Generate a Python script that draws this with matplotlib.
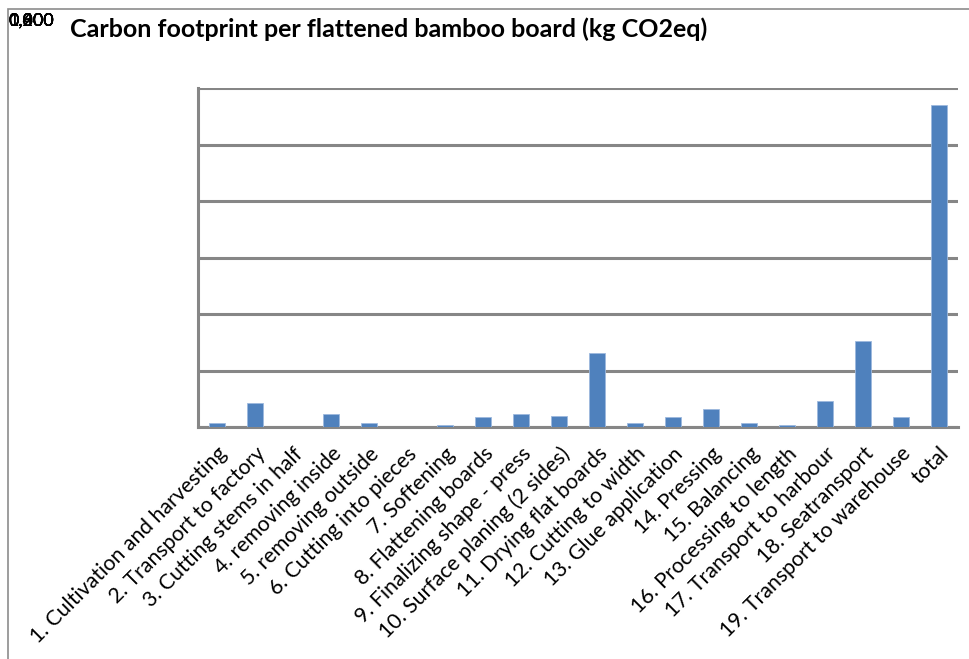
import matplotlib
matplotlib.use("Agg")
import matplotlib.pyplot as plt
from matplotlib.patches import Rectangle

steps = [
    "1. Cultivation and harvesting",
    "2. Transport to factory",
    "3. Cutting stems in half",
    "4. removing inside",
    "5. removing outside",
    "6. Cutting into pieces",
    "7. Softening",
    "8. Flattening boards",
    "9. Finalizing shape - press",
    "10. Surface planing (2 sides)",
    "11. Drying flat boards",
    "12. Cutting to width",
    "13. Glue application",
    "14. Pressing",
    "15. Balancing",
    "16. Processing to length",
    "17. Transport to harbour",
    "18. Seatransport",
    "19. Transport to warehouse",
    "total",
]
co2_kg = [0.014, 0.086, 0.0, 0.046, 0.014, 0.0, 0.006, 0.034, 0.046, 0.040,
          0.263, 0.014, 0.036, 0.065, 0.014, 0.008, 0.092, 0.303, 0.034, 1.139]
y_ticks = [0.0, 0.2, 0.4, 0.6, 0.8, 1.0, 1.2]
y_tick_labels = ["0,000", "0,200", "0,400", "0,600", "0,800", "1,000", "1,200"]

W, H = 970, 659
fig = plt.figure(figsize=(W / 100, H / 100), dpi=100)
fig.patch.set_facecolor("white")

font = "Lato"
grid_col = "#868686"

# outer chart frame
fig.add_artist(Rectangle((8 / W, -0.05), 1.2, 1 - 9 / H + 0.05,
                         transform=fig.transFigure, fill=False,
                         edgecolor="#8c8c8c", linewidth=1.2))

ax = fig.add_axes([198 / W, 1 - 427 / H, 760 / W, 339 / H])
x = list(range(len(steps)))
ax.bar(x, co2_kg, width=0.42, color="#4F81BD", edgecolor="#9DB9DE",
       linewidth=0.6, zorder=3)
ax.set_xlim(-0.5, len(steps) - 0.5)
ax.set_ylim(0, 1.2)
ax.set_yticks(y_ticks)
ax.yaxis.grid(True, color=grid_col, linewidth=2.2, zorder=0)
ax.tick_params(axis="y", length=0, labelleft=False)
ax.tick_params(axis="x", length=0, pad=12)
for s in ("top", "right"):
    ax.spines[s].set_visible(False)
for s in ("left", "bottom"):
    ax.spines[s].set_color(grid_col)
    ax.spines[s].set_linewidth(2.2)
ax.set_xticks(x)
ax.set_xticklabels(steps, rotation=45, ha="right", va="top",
                   rotation_mode="anchor", fontsize=15.3, family=font)

# the value-axis labels all end up stacked in the top-left corner
for lbl in y_tick_labels:
    fig.text(9 / W, 1 - 21 / H, lbl, ha="left", va="center",
             fontsize=13, family=font, color="black")

fig.text(70 / W, 1 - 29 / H,
         "Carbon footprint per flattened bamboo board (kg CO2eq)",
         ha="left", va="center", fontsize=18, fontweight="bold",
         family=font)

fig.savefig("out.png", dpi=100)
